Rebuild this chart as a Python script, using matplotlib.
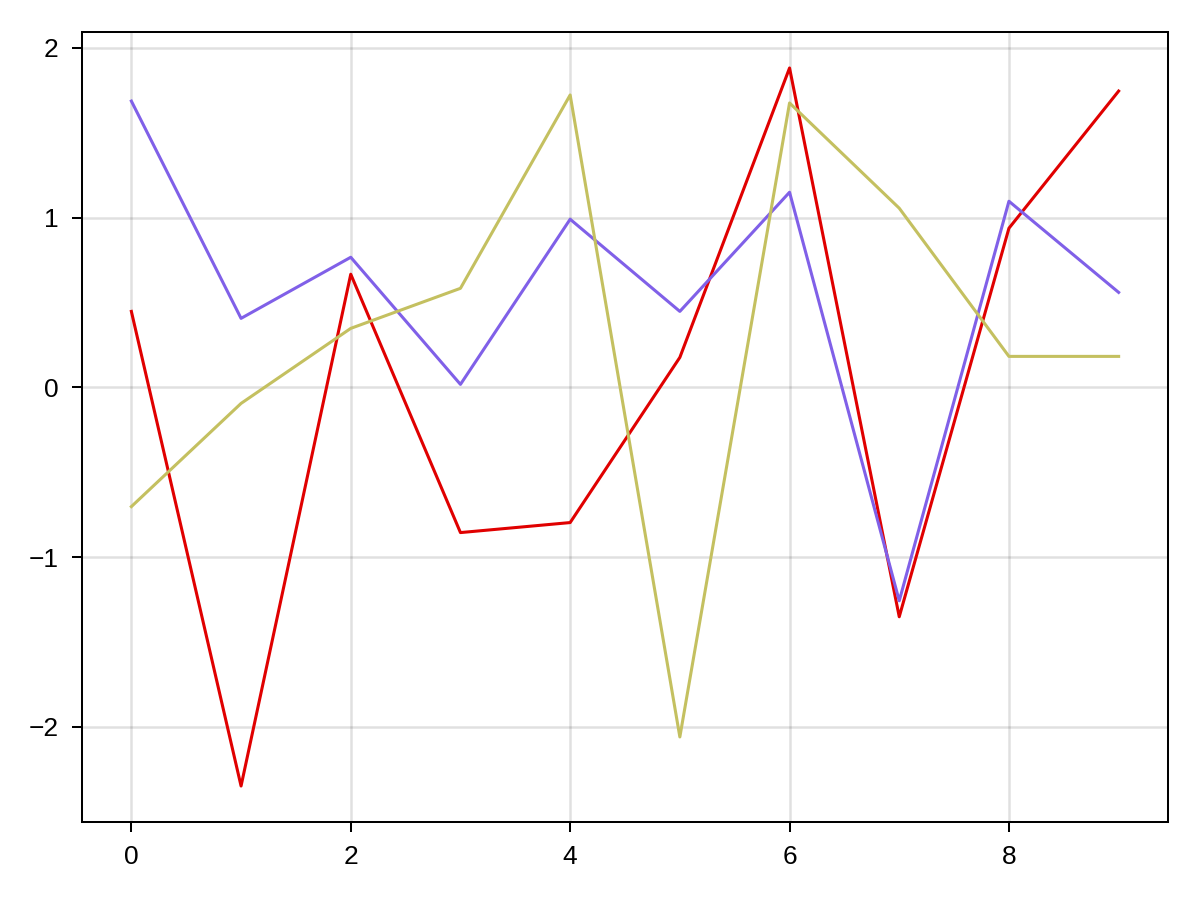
import matplotlib
matplotlib.use("Agg")
import matplotlib.pyplot as plt

x = list(range(10))
red = [0.448, -2.348, 0.667, -0.855, -0.796, 0.177, 1.882, -1.351, 0.938, 1.746]
purple = [1.687, 0.407, 0.767, 0.018, 0.991, 0.448, 1.150, -1.257, 1.097, 0.560]
olive = [-0.702, -0.094, 0.348, 0.584, 1.723, -2.059, 1.676, 1.056, 0.183, 0.183]
xticks = [0, 2, 4, 6, 8]
yticks = [-2, -1, 0, 1, 2]

plt.rcParams['font.family'] = ['Liberation Sans', 'DejaVu Sans']
fig = plt.figure(figsize=(12, 9), dpi=100)
ax = fig.add_axes([82/1200, 1-822/900, (1168-82)/1200, (822-32)/900])

ax.plot(x, red, color='#e00000', lw=2.2)
ax.plot(x, purple, color='#8060e8', lw=2.2)
ax.plot(x, olive, color='#c4c060', lw=2.2)

ax.set_xticks(xticks)
ax.set_yticks(yticks)
ax.set_xticklabels([str(t) for t in xticks])
ax.set_yticklabels([str(t).replace('-', '\u2212') for t in yticks])
ax.set_xlim(-0.45, 9.45)
ax.set_ylim(-2.56, 2.094)
ax.grid(True, color='black', alpha=0.12, lw=1.8)
ax.set_axisbelow(True)
ax.tick_params(direction='out', length=7.5, width=1.45, labelsize=19)
ax.tick_params(axis='y', pad=9.5)
ax.tick_params(axis='x', pad=9)
for s in ax.spines.values():
    s.set_linewidth(1.45)

fig.savefig('out.png', dpi=100)
